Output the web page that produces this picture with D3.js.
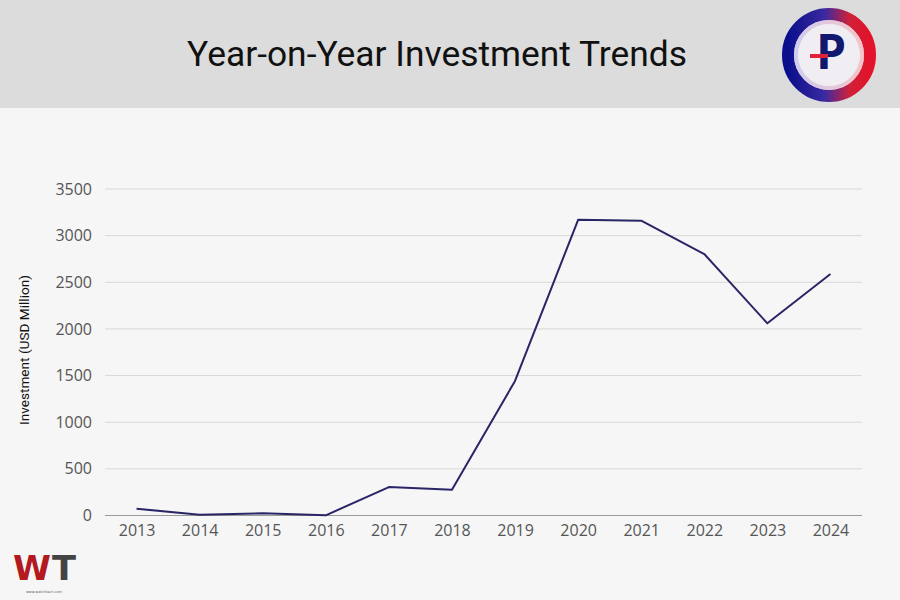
<!DOCTYPE html>
<html>
<head>
<meta charset="utf-8">
<script src="https://cdn.jsdelivr.net/npm/d3@7"></script>
<style>
  html, body { margin: 0; padding: 0; background: #f6f6f6; }
  svg { display: block; }
</style>
</head>
<body>
<div id="chart"></div>
<script>
const years = ["2013","2014","2015","2016","2017","2018","2019","2020","2021","2022","2023","2024"];
const investment = [73, 9, 24, 2, 305, 277, 1442, 3170, 3160, 2803, 2060, 2588];
const yTicks = [0, 500, 1000, 1500, 2000, 2500, 3000, 3500];
const titleText = "Year-on-Year Investment Trends";
const yLabel = "Investment (USD Million)";

(function () {
const W = 900, H = 600;
const svg = d3.select("#chart").append("svg").attr("width", W).attr("height", H);

svg.append("rect").attr("width", W).attr("height", H).attr("fill", "#f6f6f6");
svg.append("rect").attr("width", W).attr("height", 108).attr("fill", "#dcdcdc");

svg.append("text")
  .attr("x", 437).attr("y", 66)
  .attr("text-anchor", "middle")
  .attr("font-family", "Roboto, sans-serif")
  .attr("font-size", 35)
  .attr("fill", "#111")
  .attr("textLength", 500)
  .attr("lengthAdjust", "spacingAndGlyphs")
  .text(titleText);

// Logo (top right)
const defs = svg.append("defs");
const g1 = defs.append("linearGradient").attr("id", "ringGrad").attr("x1", "0%").attr("x2", "100%").attr("y1", "0%").attr("y2", "0%");
g1.append("stop").attr("offset", "0%").attr("stop-color", "#0b0f8c");
g1.append("stop").attr("offset", "45%").attr("stop-color", "#3b2aa0");
g1.append("stop").attr("offset", "75%").attr("stop-color", "#d0203a");
g1.append("stop").attr("offset", "100%").attr("stop-color", "#e2132a");
const g2 = defs.append("linearGradient").attr("id", "innerGrad").attr("x1", "0%").attr("x2", "100%");
g2.append("stop").attr("offset", "0%").attr("stop-color", "#cfcdf0");
g2.append("stop").attr("offset", "100%").attr("stop-color", "#f6c3c8");
const logo = svg.append("g").attr("transform", "translate(829,55)");
logo.append("circle").attr("r", 41).attr("fill", "none").attr("stroke", "url(#ringGrad)").attr("stroke-width", 12);
logo.append("circle").attr("r", 33).attr("fill", "none").attr("stroke", "url(#innerGrad)").attr("stroke-width", 4);
logo.append("circle").attr("r", 31).attr("fill", "#f1eef3");
logo.append("text").attr("x", 2).attr("y", 14).attr("text-anchor", "middle")
  .attr("font-family", "'Open Sans', sans-serif").attr("font-weight", "bold").attr("font-size", 48)
  .attr("fill", "#12186e").text("P");
logo.append("rect").attr("x", -19).attr("y", -1).attr("width", 18).attr("height", 4).attr("fill", "#e0223a");

// WT logo (bottom left)
svg.append("text").attr("x", 13).attr("y", 580)
  .attr("font-family", "DejaVu Sans, sans-serif").attr("font-weight", "bold").attr("font-size", 34)
  .attr("fill", "#b21a1f").attr("textLength", 38).attr("lengthAdjust", "spacingAndGlyphs").text("W");
svg.append("text").attr("x", 52).attr("y", 580)
  .attr("font-family", "DejaVu Sans, sans-serif").attr("font-weight", "bold").attr("font-size", 34)
  .attr("fill", "#444").attr("textLength", 24).attr("lengthAdjust", "spacingAndGlyphs").text("T");
svg.append("text").attr("x", 44).attr("y", 593).attr("text-anchor", "middle")
  .attr("font-family", "DejaVu Sans, sans-serif").attr("font-size", 3.5)
  .attr("fill", "#666").text("www.watchtech.com");

// Chart area
const pLeft = 105, pRight = 862, pTop = 189, pBottom = 515.5;
const x = d3.scalePoint().domain(years).range([pLeft, pRight]).padding(0.5);
const y = d3.scaleLinear().domain([0, 3500]).range([pBottom, pTop]);

const grid = svg.append("g");
grid.selectAll("line").data(yTicks.filter(d => d > 0)).enter().append("line")
  .attr("x1", pLeft).attr("x2", pRight)
  .attr("y1", d => y(d)).attr("y2", d => y(d))
  .attr("stroke", "#d8d8d8").attr("stroke-width", 1);

const yAxis = svg.append("g").attr("transform", `translate(${pLeft},0)`)
  .call(d3.axisLeft(y).tickValues(yTicks).tickFormat(d3.format("d")).tickSize(0).tickPadding(13));
yAxis.select(".domain").remove();
yAxis.selectAll("text").attr("font-family", "'Open Sans', sans-serif").attr("font-size", 16).attr("fill", "#555");

const xAxis = svg.append("g").attr("transform", `translate(0,${pBottom})`)
  .call(d3.axisBottom(x).tickSize(0).tickPadding(9));
xAxis.select(".domain").attr("stroke", "#9a9a9a").attr("d", `M${pLeft},0H${pRight}`);
xAxis.selectAll("text").attr("font-family", "'Open Sans', sans-serif").attr("font-size", 16).attr("fill", "#555");

svg.append("text")
  .attr("transform", `translate(29,350) rotate(-90)`)
  .attr("text-anchor", "middle")
  .attr("font-family", "Roboto, sans-serif").attr("font-size", 12.5).attr("fill", "#111")
  .attr("textLength", 150).attr("lengthAdjust", "spacingAndGlyphs")
  .text(yLabel);

const line = d3.line().x((d, i) => x(years[i])).y(d => y(d));
svg.append("path").datum(investment)
  .attr("d", line)
  .attr("fill", "none")
  .attr("stroke", "#2a2566")
  .attr("stroke-width", 2)
  .attr("stroke-linejoin", "round");
})();
</script>
</body>
</html>
